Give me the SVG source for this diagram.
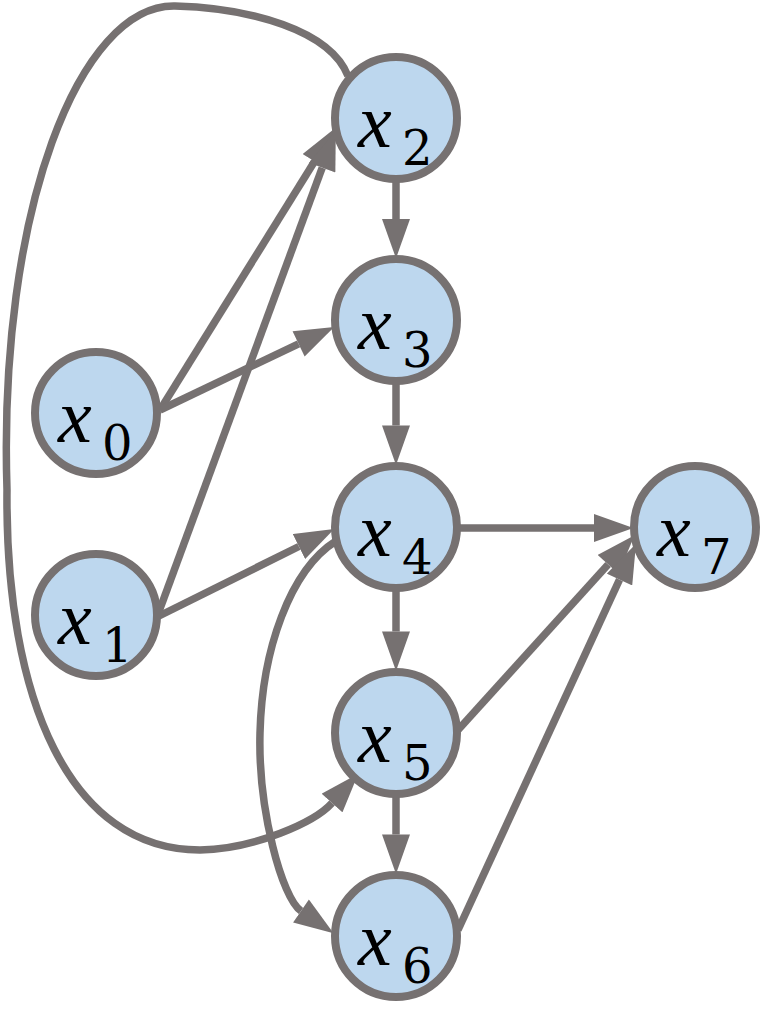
<svg xmlns="http://www.w3.org/2000/svg" width="761" height="1015" viewBox="0 0 761 1015">
<style>
.e{fill:none;stroke:#767171;stroke-width:7.5;marker-end:url(#ah)}
.n circle{fill:#BDD7EE;stroke:#767171;stroke-width:8}
.v{font-family:"Liberation Serif",serif;font-style:italic;font-size:76px;fill:#000}
.s{font-family:"DejaVu Serif",serif;font-size:48px;fill:#000}
</style>
<defs>
<marker id="ah" markerUnits="userSpaceOnUse" markerWidth="40" markerHeight="28" refX="0" refY="13.5" orient="auto" viewBox="0 0 38 27">
<path d="M0,0 L38,13.5 L0,27 Z" fill="#767171"/>
</marker>
</defs>
<g id="connectors">
<path class="e" d="M348,76 C330,30 250,8 175,6 C80,4 -2,210 7,490 C5,700 70,850 200,850 C255,849 315,822 332,803"/>
<path class="e" d="M336,541 C290,570 262,650 260,733 C258,810 282,898 301,911"/>
<path class="e" d="M160,410 L314.5,161.4"/>
<path class="e" d="M157,617 L322.2,167.7"/>
<path class="e" d="M160,410 L298.6,343.9"/>
<path class="e" d="M157,617 L298.9,546.5"/>
<path class="e" d="M396,182 L396,219"/>
<path class="e" d="M396,384 L396,425.5"/>
<path class="e" d="M396,591 L396,631.5"/>
<path class="e" d="M396,797 L396,834.5"/>
<path class="e" d="M460,528 L594,528"/>
<path class="e" d="M458,730 L608.1,564.4"/>
<path class="e" d="M458,930 L619.5,579.6"/>
</g>
<g id="x0" class="n" transform="translate(96,413)"><circle r="61"/><text class="v" x="-38" y="29">x</text><text class="s" x="6" y="47">0</text></g>
<g id="x1" class="n" transform="translate(96,615)"><circle r="61"/><text class="v" x="-38" y="29">x</text><text class="s" x="6" y="47">1</text></g>
<g id="x2" class="n" transform="translate(396,118)"><circle r="61"/><text class="v" x="-38" y="29">x</text><text class="s" x="6" y="47">2</text></g>
<g id="x3" class="n" transform="translate(396,320)"><circle r="61"/><text class="v" x="-38" y="29">x</text><text class="s" x="6" y="47">3</text></g>
<g id="x4" class="n" transform="translate(396,527)"><circle r="61"/><text class="v" x="-38" y="29">x</text><text class="s" x="6" y="47">4</text></g>
<g id="x5" class="n" transform="translate(396,733)"><circle r="61"/><text class="v" x="-38" y="29">x</text><text class="s" x="6" y="47">5</text></g>
<g id="x6" class="n" transform="translate(396,936)"><circle r="61"/><text class="v" x="-38" y="29">x</text><text class="s" x="6" y="47">6</text></g>
<g id="x7" class="n" transform="translate(695,527)"><circle r="61"/><text class="v" x="-38" y="29">x</text><text class="s" x="6" y="47">7</text></g>
</svg>
